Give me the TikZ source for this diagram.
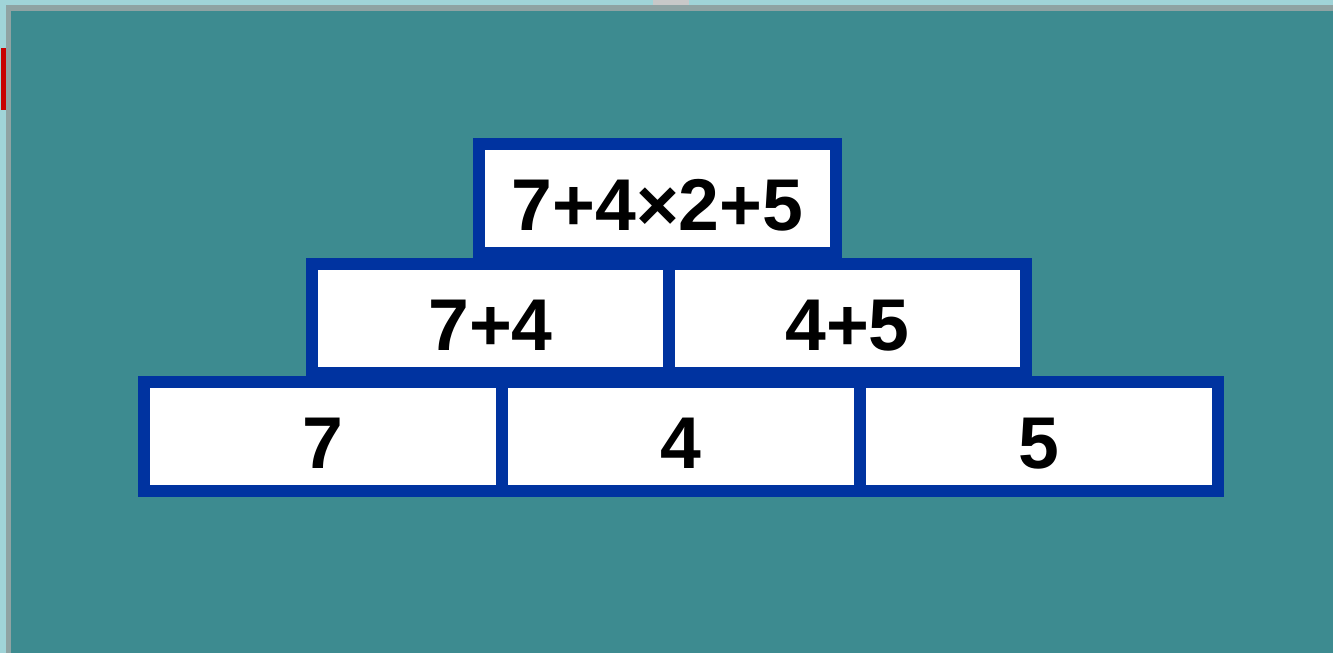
\documentclass[tikz,border=0pt]{standalone}
\usepackage{fontspec}
\setmainfont{Liberation Sans}
\definecolor{edgeblue}{HTML}{A0D4D8}
\definecolor{frame}{HTML}{8FA3A3}
\definecolor{teal}{HTML}{3D8B90}
\definecolor{brick}{HTML}{0033A0}
\definecolor{redbar}{HTML}{C80000}
\definecolor{patch}{HTML}{C8C8C8}
\tikzset{
  cell/.style={draw=brick, fill=white, line width=9pt, rectangle,
    minimum width=268.1pt, minimum height=81.75pt, inner sep=0pt,
    text height=48pt, text depth=0pt,
    font=\fontsize{55}{60}\selectfont\bfseries}
}
\begin{document}
\begin{tikzpicture}[x=0.75pt,y=-0.75pt]
\useasboundingbox (0,0) rectangle (1333,653);
\fill[edgeblue] (0,0) rectangle (1333,653);
\fill[patch] (653,0) rectangle (689,5);
\fill[frame] (6,5) rectangle (1333,653);
\fill[teal] (11,11) rectangle (1333,653);
\fill[redbar] (1,48) rectangle (6,110);
% bottom row
\node[cell] (b1) at (323,436.5) {7};
\node[cell] (b2) at (681,436.5) {4};
\node[cell] (b3) at (1039,436.5) {5};
% middle row
\node[cell] (m1) at (490.5,318) {7+4};
\node[cell] (m2) at (847.5,318) {4+5};
% top
\node[cell] (t) at (657.5,198.5) {7+4×2+5};
\end{tikzpicture}
\end{document}
